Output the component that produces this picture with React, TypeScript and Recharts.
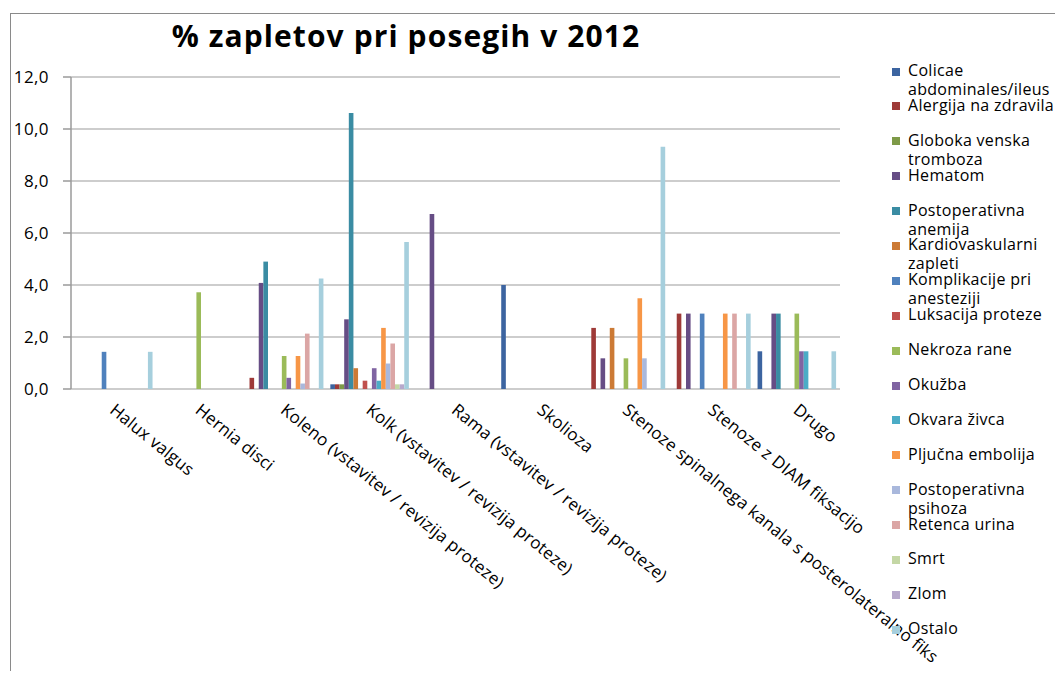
import React from 'react';
import { BarChart, Bar, XAxis, YAxis, CartesianGrid } from 'recharts';

const categories = [
  'Halux valgus',
  'Hernia disci',
  'Koleno (vstavitev / revizija proteze)',
  'Kolk (vstavitev / revizija proteze)',
  'Rama (vstavitev / revizija proteze)',
  'Skolioza',
  'Stenoze spinalnega kanala s posterolateralno fiks',
  'Stenoze z DIAM fiksacijo',
  'Drugo',
];

const seriesNames = [
  'Colicae abdominales/ileus',
  'Alergija na zdravila',
  'Globoka venska tromboza',
  'Hematom',
  'Postoperativna anemija',
  'Kardiovaskularni zapleti',
  'Komplikacije pri anesteziji',
  'Luksacija proteze',
  'Nekroza rane',
  'Okužba',
  'Okvara živca',
  'Pljučna embolija',
  'Postoperativna psihoza',
  'Retenca urina',
  'Smrt',
  'Zlom',
  'Ostalo',
];

const seriesColors = [
  '#3C64A0', '#9E3A38', '#7E9A48', '#664D85', '#3A8CA3', '#CC7A35',
  '#4F81BD', '#C0504D', '#9BBB59', '#8064A2', '#4BACC6', '#F79646',
  '#A9B8DC', '#DBA6A5', '#C4D7A5', '#B7A9CC', '#A6CFDD',
];

const colicae = [null, null, null, 0.18, null, 4.0, null, null, 1.45];
const alergija = [null, null, 0.43, 0.18, null, null, 2.35, 2.9, null];
const globoka = [null, null, null, 0.18, null, null, null, null, null];
const hematom = [null, null, 4.08, 2.68, 6.73, null, 1.18, 2.9, 2.9];
const anemija = [null, null, 4.9, 10.62, null, null, null, null, 2.9];
const kardio = [null, null, null, 0.8, null, null, 2.35, null, null];
const komplikacije = [1.43, null, null, null, null, null, null, 2.9, null];
const luksacija = [null, null, null, 0.32, null, null, null, null, null];
const nekroza = [null, 3.72, 1.27, null, null, null, 1.18, null, 2.9];
const okuzba = [null, null, 0.43, 0.8, null, null, null, null, 1.45];
const okvara = [null, null, null, 0.32, null, null, null, null, 1.45];
const pljucna = [null, null, 1.27, 2.35, null, null, 3.49, 2.9, null];
const psihoza = [null, null, 0.21, 0.98, null, null, 1.18, null, null];
const retenca = [null, null, 2.13, 1.75, null, null, null, 2.9, null];
const smrt = [null, null, null, 0.18, null, null, null, null, null];
const zlom = [null, null, null, 0.18, null, null, null, null, null];
const ostalo = [1.43, null, 4.25, 5.65, null, null, 9.32, 2.9, 1.45];

const seriesValues = [
  colicae, alergija, globoka, hematom, anemija, kardio, komplikacije, luksacija,
  nekroza, okuzba, okvara, pljucna, psihoza, retenca, smrt, zlom, ostalo,
];

const yTicks = [0, 2, 4, 6, 8, 10, 12];
const boundaryTicks = [0, 1, 2, 3, 4, 5, 6, 7, 8, 9];

const data = categories.map((c, i) => {
  const row: Record<string, any> = { name: c };
  seriesValues.forEach((vals, s) => {
    row['s' + s] = vals[i];
  });
  return row;
});

const FONT = '"Open Sans", "DejaVu Sans", sans-serif';

const XTick = (props: any) => {
  const { x, y, payload } = props;
  return (
    <text
      x={0}
      y={0}
      transform={`translate(${x - 5},${y + 23}) rotate(39)`}
      textAnchor="start"
      fontSize={17}
      letterSpacing={0.2}
      fontFamily={FONT}
      fill="#000"
    >
      {payload.value}
    </text>
  );
};

const YTick = (props: any) => {
  const { x, y, payload } = props;
  return (
    <text
      x={x - 12}
      y={y}
      dy={6}
      textAnchor="end"
      fontSize={17}
      letterSpacing={0.4}
      fontFamily={FONT}
      fill="#000"
    >
      {payload.value.toFixed(1).replace('.', ',')}
    </text>
  );
};

export default function App() {
  return (
    <div
      style={{
        position: 'relative',
        width: 1063,
        height: 679,
        margin: -8,
        overflow: 'hidden',
        background: '#fff',
        fontFamily: FONT,
      }}
    >
      <div
        style={{
          position: 'absolute',
          left: 10,
          top: 13,
          width: 1200,
          height: 800,
          border: '1.5px solid #8a8a8a',
          boxSizing: 'border-box',
        }}
      />
      <div
        style={{
          position: 'absolute',
          left: 0,
          top: 15,
          width: 812,
          textAlign: 'center',
          fontSize: 30,
          letterSpacing: 1.1,
          fontWeight: 700,
          color: '#000',
          whiteSpace: 'nowrap',
        }}
      >
        % zapletov pri posegih v 2012
      </div>
      <div style={{ position: 'absolute', left: 0, top: 0 }}>
        <BarChart
          width={1063}
          height={679}
          data={data}
          margin={{ top: 77, right: 223, bottom: 260, left: 0 }}
          barSize={4.62}
          barGap={0}
        >
          <CartesianGrid
            horizontal={true}
            vertical={false}
            stroke="#bdbdbd"
            strokeWidth={1.5}
          />
          <XAxis
            xAxisId="grid"
            type="number"
            domain={[0, 9]}
            ticks={boundaryTicks}
            height={0}
            tickSize={5}
            tickLine={{ stroke: '#9a9a9a', strokeWidth: 1.5 }}
            tickFormatter={() => ''}
            stroke="#9a9a9a"
            strokeWidth={1.5}
            allowDataOverflow
          />
          <XAxis
            dataKey="name"
            height={30}
            tickLine={false}
            axisLine={false}
            tickSize={0}
            tickMargin={0}
            interval={0}
            tick={<XTick />}
          />
          <YAxis
            domain={[0, 12]}
            ticks={yTicks}
            width={71}
            tickSize={8}
            tickLine={{ stroke: '#9a9a9a', strokeWidth: 1.5 }}
            stroke="#9a9a9a"
            strokeWidth={1.5}
            tick={<YTick />}
          />
          {seriesNames.map((n, s) => (
            <Bar
              key={n}
              dataKey={'s' + s}
              name={n}
              fill={seriesColors[s]}
              isAnimationActive={false}
            />
          ))}
        </BarChart>
      </div>
      <div style={{ position: 'absolute', left: 892, top: 61 }}>
        {seriesNames.map((n, s) => (
          <div
            key={n}
            style={{ display: 'flex', alignItems: 'flex-start', height: 34.9 }}
          >
            <div
              style={{
                width: 8,
                height: 8,
                marginTop: 6.5,
                background: seriesColors[s],
                flex: 'none',
              }}
            />
            <div
              style={{
                marginLeft: 8,
                width: 156,
                fontSize: 16,
                letterSpacing: 0.3,
                lineHeight: '19px',
                color: '#000',
              }}
            >
              {n}
            </div>
          </div>
        ))}
      </div>
    </div>
  );
}
